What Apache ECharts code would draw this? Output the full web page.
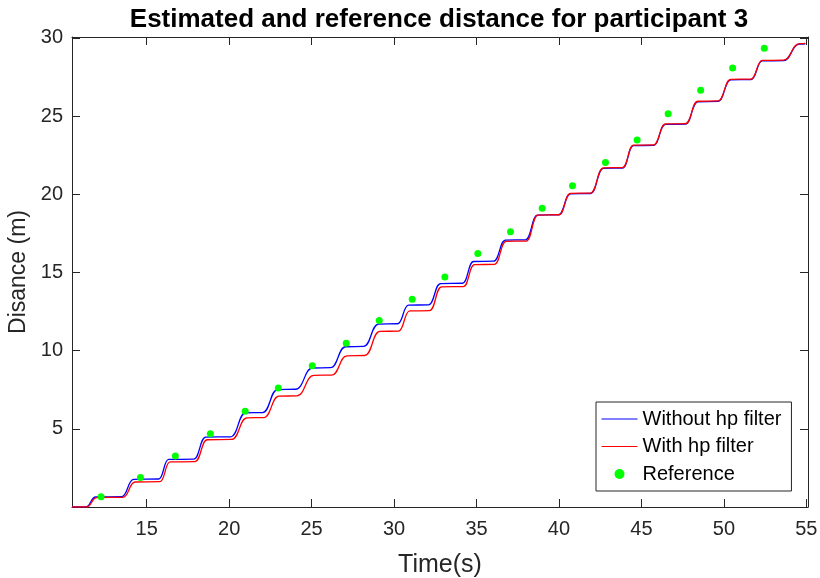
<!DOCTYPE html>
<html>
<head>
<meta charset="utf-8">
<title>Estimated and reference distance for participant 3</title>
<script src="https://cdn.jsdelivr.net/npm/echarts@6/dist/echarts.min.js"></script>
<style>
  html, body { margin: 0; padding: 0; background: #ffffff; }
  #chart { width: 820px; height: 578px; }
</style>
</head>
<body>
<div id="chart"></div>
<script>
// Estimated distance without the high-pass filter (time in s, distance in m)
const timeNoFilter = [
  10.47, 11.30, 11.91, 13.48, 14.21, 15.73, 16.33, 17.85, 18.58, 20.09,
  21.00, 22.03, 22.94, 24.03, 25.06, 26.15, 27.06, 28.15, 29.06, 30.21,
  30.88, 32.09, 32.82, 34.15, 34.82, 36.03, 36.76, 37.97, 38.70, 39.97,
  40.70, 41.91, 42.70, 43.85, 44.52, 45.73, 46.46, 47.67, 48.42, 49.64,
  50.42, 51.64, 52.33, 53.61, 54.58, 54.94
];
const distNoFilter = [
  0.00, 0.00, 0.64, 0.66, 1.77, 1.79, 3.04, 3.06, 4.47, 4.49,
  6.02, 6.04, 7.51, 7.53, 8.89, 8.91, 10.25, 10.27, 11.70, 11.72,
  12.91, 12.93, 14.29, 14.31, 15.70, 15.72, 17.07, 17.09, 18.67, 18.69,
  20.03, 20.05, 21.66, 21.68, 23.11, 23.13, 24.47, 24.49, 25.92, 25.94,
  27.32, 27.34, 28.53, 28.55, 29.60, 29.62
];

// Estimated distance with the high-pass filter
const timeWithFilter = [
  10.47, 11.35, 11.98, 13.55, 14.30, 15.80, 16.42, 17.92, 18.67, 20.15,
  21.08, 22.10, 23.02, 24.10, 25.14, 26.22, 27.14, 28.22, 29.14, 30.27,
  30.95, 32.15, 32.88, 34.20, 34.88, 36.08, 36.80, 38.01, 38.73, 40.00,
  40.70, 41.91, 42.70, 43.85, 44.52, 45.73, 46.46, 47.67, 48.42, 49.64,
  50.42, 51.64, 52.33, 53.61, 54.58, 54.94
];
const distWithFilter = [
  0.00, 0.00, 0.60, 0.62, 1.60, 1.62, 2.88, 2.90, 4.30, 4.32,
  5.70, 5.72, 7.09, 7.11, 8.42, 8.44, 9.67, 9.69, 11.23, 11.25,
  12.54, 12.56, 14.08, 14.10, 15.50, 15.52, 16.99, 17.01, 18.67, 18.69,
  20.06, 20.08, 21.69, 21.71, 23.14, 23.16, 24.50, 24.52, 25.95, 25.97,
  27.35, 27.37, 28.56, 28.58, 29.63, 29.65
];

// Reference distance measurements
const timeReference = [
  12.23, 14.62, 16.74, 18.86, 20.97, 22.98, 25.04, 27.10, 29.10, 31.10,
  33.08, 35.08, 37.06, 38.98, 40.82, 42.82, 44.74, 46.62, 48.59, 50.53, 52.45
];
const distReference = [
  0.66, 1.88, 3.26, 4.68, 6.12, 7.61, 9.04, 10.47, 11.93, 13.29,
  14.71, 16.21, 17.61, 19.11, 20.54, 22.03, 23.48, 25.15, 26.65, 28.07, 29.34
];

// Axis ranges and tick labels
const xRange = [10.47, 55.1];
const yRange = [0, 30.06];
const xTicks = [15, 20, 25, 30, 35, 40, 45, 50, 55];
const yTicks = [5, 10, 15, 20, 25, 30];

const zip = (xs, ys) => xs.map((x, i) => [x, ys[i]]);

const axisColor = '#262626';
const font = 'Liberation Sans, Arial, Helvetica, sans-serif';

function boxAxis(extra) {
  return Object.assign({
    type: 'value',
    axisLine: { show: true, onZero: false, lineStyle: { color: axisColor, width: 1 } },
    axisTick: { show: true, inside: true, length: 8, lineStyle: { color: axisColor, width: 1 } },
    splitLine: { show: false },
    axisLabel: { show: false }
  }, extra);
}

const chart = echarts.init(document.getElementById('chart'), null, { renderer: 'canvas' });

chart.setOption({
  animation: false,
  backgroundColor: '#ffffff',
  textStyle: { fontFamily: font },
  title: {
    text: 'Estimated and reference distance for participant 3',
    left: 434,
    textAlign: 'center',
    top: 2,
    textStyle: { fontFamily: font, fontSize: 26, fontWeight: 'bold', color: '#000000' }
  },
  grid: {
    left: 72, right: 12, top: 37, bottom: 71,
    containLabel: false,
    outerBoundsMode: 'none',
    show: false
  },
  legend: {
    orient: 'vertical',
    left: 596,
    top: 402,
    padding: [7, 10, 7, 5],
    itemWidth: 36,
    itemHeight: 10,
    itemGap: 7.5,
    borderColor: axisColor,
    borderWidth: 1,
    backgroundColor: '#ffffff',
    textStyle: { fontFamily: font, fontSize: 20, lineHeight: 20, color: '#000000' },
    data: [
      { name: 'Without hp filter', itemStyle: { opacity: 0 }, lineStyle: { color: '#0000ff', width: 1 } },
      { name: 'With hp filter', itemStyle: { opacity: 0 }, lineStyle: { color: '#ff0000', width: 1 } },
      { name: 'Reference', icon: 'circle' }
    ]
  },
  xAxis: [
    boxAxis({
      position: 'bottom',
      min: xRange[0], max: xRange[1],
      axisTick: { show: true, inside: true, length: 8, customValues: xTicks, lineStyle: { color: axisColor, width: 1 } },
      axisLabel: { show: true, customValues: xTicks, fontSize: 20, color: axisColor, margin: 12, fontFamily: font },
      name: 'Time(s)',
      nameLocation: 'middle',
      nameGap: 46,
      nameTextStyle: { fontSize: 25, color: axisColor, fontFamily: font }
    }),
    boxAxis({
      position: 'top',
      min: xRange[0], max: xRange[1],
      axisTick: { show: true, inside: true, length: 8, customValues: xTicks, lineStyle: { color: axisColor, width: 1 } }
    })
  ],
  yAxis: [
    boxAxis({
      position: 'left',
      min: yRange[0], max: yRange[1],
      axisTick: { show: true, inside: true, length: 8, customValues: yTicks, lineStyle: { color: axisColor, width: 1 } },
      axisLabel: { show: true, customValues: yTicks, fontSize: 20, color: axisColor, margin: 9, fontFamily: font },
      name: 'Disance (m)',
      nameLocation: 'middle',
      nameGap: 38,
      nameTextStyle: { fontSize: 23, color: axisColor, fontFamily: font }
    }),
    boxAxis({
      position: 'right',
      min: yRange[0], max: yRange[1],
      axisTick: { show: true, inside: true, length: 8, customValues: yTicks, lineStyle: { color: axisColor, width: 1 } }
    })
  ],
  series: [
    {
      name: 'Without hp filter',
      type: 'line',
      data: zip(timeNoFilter, distNoFilter),
      symbol: 'none',
      smooth: 0.5,
      smoothMonotone: 'x',
      lineStyle: { color: '#0000ff', width: 1.3 },
      itemStyle: { color: '#0000ff' },
      z: 2
    },
    {
      name: 'With hp filter',
      type: 'line',
      data: zip(timeWithFilter, distWithFilter),
      symbol: 'none',
      smooth: 0.5,
      smoothMonotone: 'x',
      lineStyle: { color: '#ff0000', width: 1.3 },
      itemStyle: { color: '#ff0000' },
      z: 3
    },
    {
      name: 'Reference',
      type: 'scatter',
      data: zip(timeReference, distReference),
      symbol: 'circle',
      symbolSize: 7,
      itemStyle: { color: '#00ff00', opacity: 1 },
      z: 4
    }
  ]
});
</script>
</body>
</html>
